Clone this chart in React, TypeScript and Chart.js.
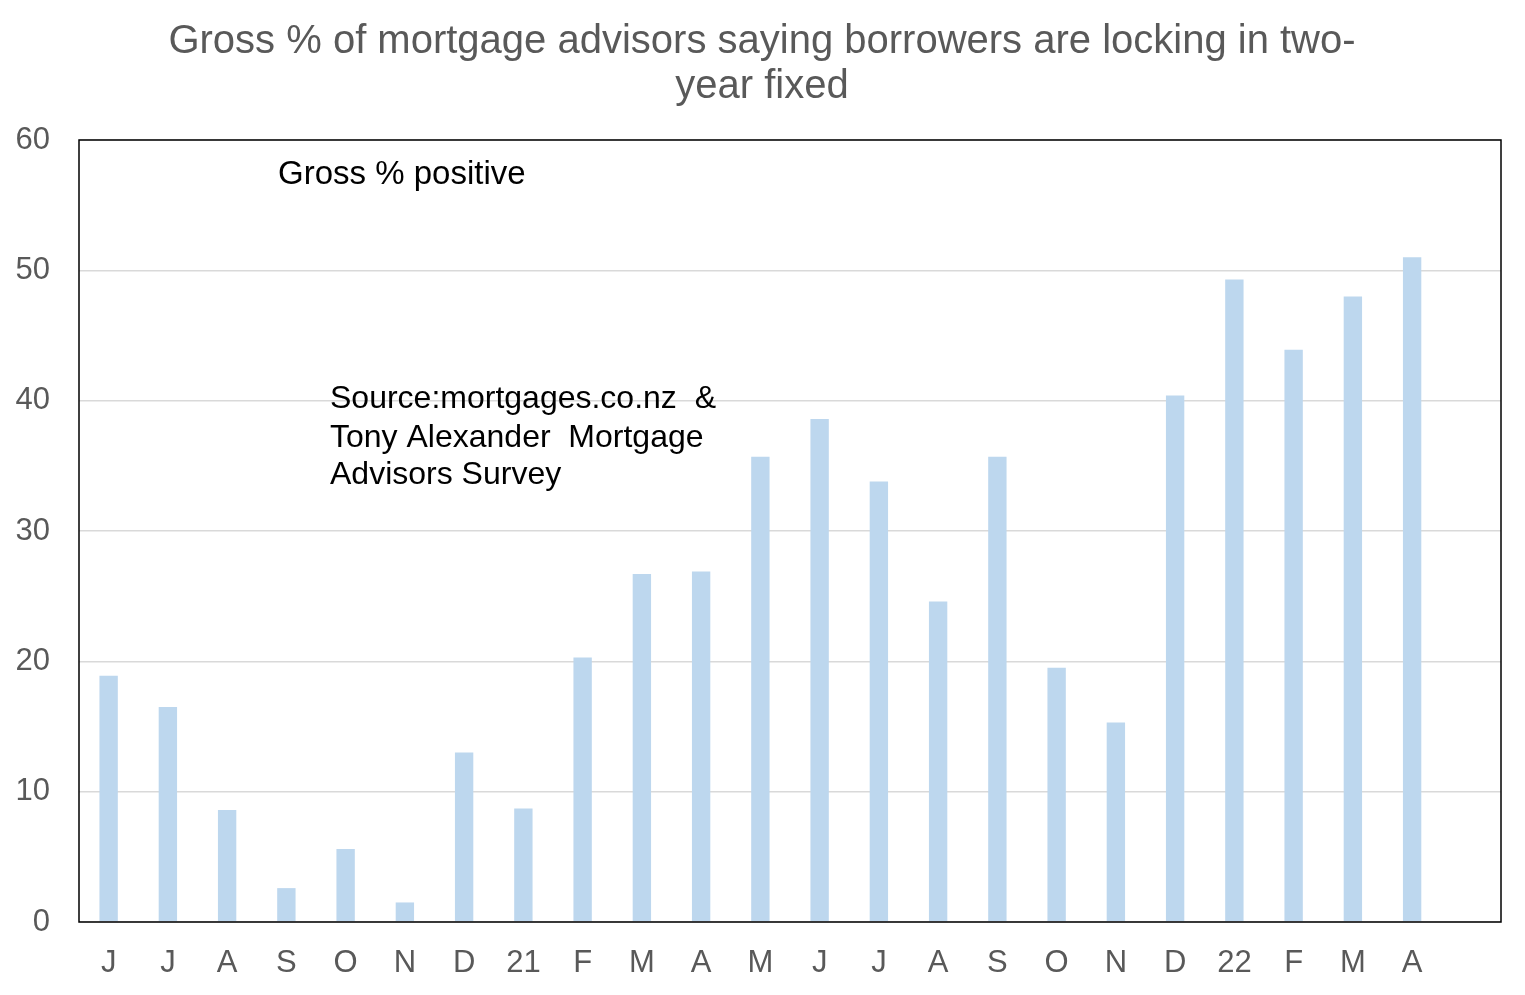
import { useEffect, useRef } from "react"
import { Chart, registerables } from "chart.js"

Chart.register(...registerables)

// month labels, Jun 2020 .. Apr 2022 (last slot left empty)
const months = ["J", "J", "A", "S", "O", "N", "D", "21", "F", "M", "A", "M", "J", "J", "A", "S", "O", "N", "D", "22", "F", "M", "A", ""]

// gross % positive
const grossPositive = [18.9, 16.5, 8.6, 2.6, 5.6, 1.5, 13.0, 8.7, 20.3, 26.7, 26.9, 35.7, 38.6, 33.8, 24.6, 35.7, 19.5, 15.3, 40.4, 49.3, 43.9, 48.0, 51.0, null]

const yTicks = [0, 10, 20, 30, 40, 50, 60]

const titleLines = ["Gross % of mortgage advisors saying borrowers are locking in two-", "year fixed"]

const FONT = "'Liberation Sans', Arial, sans-serif"

export default function App() {
  const chartRef = useRef<HTMLCanvasElement>(null)
  const chartInstance = useRef<Chart | null>(null)

  useEffect(() => {
    if (!chartRef.current) return
    document.body.style.margin = "0"

    if (chartInstance.current) {
      chartInstance.current.destroy()
    }

    // title, frame round the plot area and the two text boxes
    const extras = {
      id: "extras",
      afterDraw(chart: Chart) {
        const { ctx, chartArea } = chart
        ctx.save()
        ctx.fillStyle = "#595959"
        ctx.font = `40px ${FONT}`
        ctx.textAlign = "center"
        ctx.textBaseline = "middle"
        ctx.fillText(titleLines[0], 762, 42)
        ctx.fillText(titleLines[1], 762, 87)

        ctx.strokeStyle = "#000000"
        ctx.lineWidth = 1.5
        ctx.strokeRect(chartArea.left, chartArea.top, chartArea.right - chartArea.left, chartArea.bottom - chartArea.top)

        ctx.fillStyle = "#000000"
        ctx.textAlign = "left"
        ctx.font = `33px ${FONT}`
        ctx.fillText("Gross % positive", chartArea.left + 199, chartArea.top + 35)
        ctx.font = `32px ${FONT}`
        ctx.fillText("Source:mortgages.co.nz  &", chartArea.left + 251, chartArea.top + 259)
        ctx.fillText("Tony Alexander  Mortgage", chartArea.left + 251, chartArea.top + 298)
        ctx.fillText("Advisors Survey", chartArea.left + 251, chartArea.top + 335)
        ctx.restore()
      },
    }

    const ctx = chartRef.current.getContext("2d")
    if (ctx) {
      chartInstance.current = new Chart(ctx, {
        type: "bar",
        data: {
          labels: months,
          datasets: [
            {
              label: "Gross % positive",
              data: grossPositive,
              backgroundColor: "#BDD7EE",
              borderWidth: 0,
              barPercentage: 0.31,
              categoryPercentage: 1,
            },
          ],
        },
        options: {
          responsive: false,
          animation: false,
          layout: {
            padding: { top: 140, right: 24, bottom: 0, left: 0 },
          },
          scales: {
            x: {
              grid: { display: false },
              border: { display: false },
              afterFit: (axis) => {
                axis.height = 73
              },
              ticks: {
                color: "#595959",
                font: { family: FONT, size: 31 },
                padding: 15,
                maxRotation: 0,
                autoSkip: false,
              },
            },
            y: {
              min: 0,
              max: 60,
              afterBuildTicks: (axis) => {
                axis.ticks = yTicks.map((v) => ({ value: v }))
              },
              afterFit: (axis) => {
                axis.width = 79
              },
              grid: { color: "#D9D9D9", lineWidth: 1.5, drawTicks: false },
              border: { display: false },
              ticks: {
                color: "#595959",
                font: { family: FONT, size: 31 },
                padding: 29,
              },
            },
          },
          plugins: {
            legend: { display: false },
            tooltip: { enabled: false },
            title: { display: false },
          },
        },
        plugins: [extras],
      })
    }

    return () => {
      if (chartInstance.current) {
        chartInstance.current.destroy()
      }
    }
  }, [])

  return (
    <div style={{ width: 1525, height: 995, background: "#ffffff" }}>
      <canvas ref={chartRef} width={1525} height={995} />
    </div>
  )
}
